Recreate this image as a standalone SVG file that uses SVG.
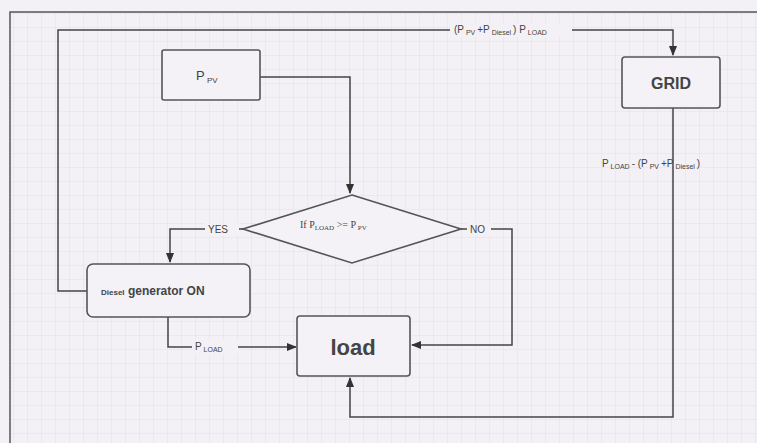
<svg xmlns="http://www.w3.org/2000/svg" width="757" height="443" viewBox="0 0 757 443">
<defs>
<pattern id="grid" width="14" height="14" patternUnits="userSpaceOnUse">
<path d="M14 0V14M0 14H14" fill="none" stroke="#dcdbe4" stroke-width="0.8"/>
</pattern>
<marker id="arr" viewBox="0 0 10 10" refX="9" refY="5" markerWidth="7" markerHeight="7" orient="auto">
<path d="M0 1L10 5L0 9z" fill="#333"/>
</marker>
</defs>
<style>
.box{fill:#f4f2f6;stroke:#555;stroke-width:1.6}
.ln{fill:none;stroke:#444;stroke-width:1.5}
.t{font-family:"Liberation Sans",Arial,sans-serif;fill:#444}
.s{font-family:"Liberation Serif","Times New Roman",serif;fill:#444}
.lab{font-size:10px}
.sub{font-size:7px}
</style>
<rect width="757" height="443" fill="#f3f1f5"/>
<rect x="10" y="12" width="747" height="431" fill="url(#grid)"/>
<path d="M10 443V12H757" fill="none" stroke="#555" stroke-width="1.5"/>
<g id="connectors">
<path class="ln" d="M260 77H350V193" marker-end="url(#arr)"/>
<path class="ln" d="M243 229H170V262" marker-end="url(#arr)"/>
<path class="ln" d="M461 229H512V345H412" marker-end="url(#arr)"/>
<path class="ln" d="M87 291H58V30H673V55" marker-end="url(#arr)"/>
<path class="ln" d="M168 317V347H296" marker-end="url(#arr)"/>
<path class="ln" d="M673 108V417H350V378" marker-end="url(#arr)"/>
<rect x="450" y="23" width="122" height="14" fill="#f3f1f5"/>
<text class="t lab" x="454" y="33">(P<tspan class="sub" dy="2"> PV </tspan><tspan dy="-2">+P</tspan><tspan class="sub" dy="2"> Diesel </tspan><tspan dy="-2">) P</tspan><tspan class="sub" dy="2"> LOAD</tspan></text>
<rect x="205" y="223" width="34" height="13" fill="#f3f1f5"/>
<text class="t lab" x="208" y="233">YES</text>
<rect x="467" y="223" width="24" height="13" fill="#f3f1f5"/>
<text class="t lab" x="470" y="233">NO</text>
<rect x="192" y="340" width="46" height="14" fill="#f3f1f5"/>
<text class="t lab" x="195" y="350">P<tspan class="sub" dy="2"> LOAD</tspan></text>
<text class="t lab" x="602" y="167">P<tspan class="sub" dy="2"> LOAD </tspan><tspan dy="-2">- (P</tspan><tspan class="sub" dy="2"> PV </tspan><tspan dy="-2">+P</tspan><tspan class="sub" dy="2"> Diesel </tspan><tspan dy="-2">)</tspan></text>
</g>
<g id="ppv">
<rect class="box" x="162" y="50" width="98" height="50" rx="2"/>
<text class="t" x="196" y="80" font-size="13">P<tspan font-size="8" dy="3"> PV</tspan></text>
</g>
<g id="decision">
<polygon class="box" points="352,195 461,229 352,263 243,229"/>
<text class="s" x="300" y="228" font-size="10">If P<tspan font-size="7" dy="2">LOAD</tspan><tspan dy="-2"> &gt;= P</tspan><tspan font-size="7" dy="2"> PV</tspan></text>
</g>
<g id="diesel">
<rect class="box" x="87" y="264" width="163" height="53" rx="6"/>
<text class="t" x="101" y="295" font-size="12" font-weight="bold"><tspan font-size="8">Diesel</tspan> generator ON</text>
</g>
<g id="load">
<rect class="box" x="297" y="316" width="113" height="60" rx="3"/>
<text class="t" x="353" y="355" font-size="22" font-weight="bold" text-anchor="middle">load</text>
</g>
<g id="grid-node">
<rect class="box" x="622" y="57" width="98" height="51" rx="3"/>
<text class="t" x="671" y="89" font-size="16" font-weight="bold" text-anchor="middle">GRID</text>
</g>
</svg>
